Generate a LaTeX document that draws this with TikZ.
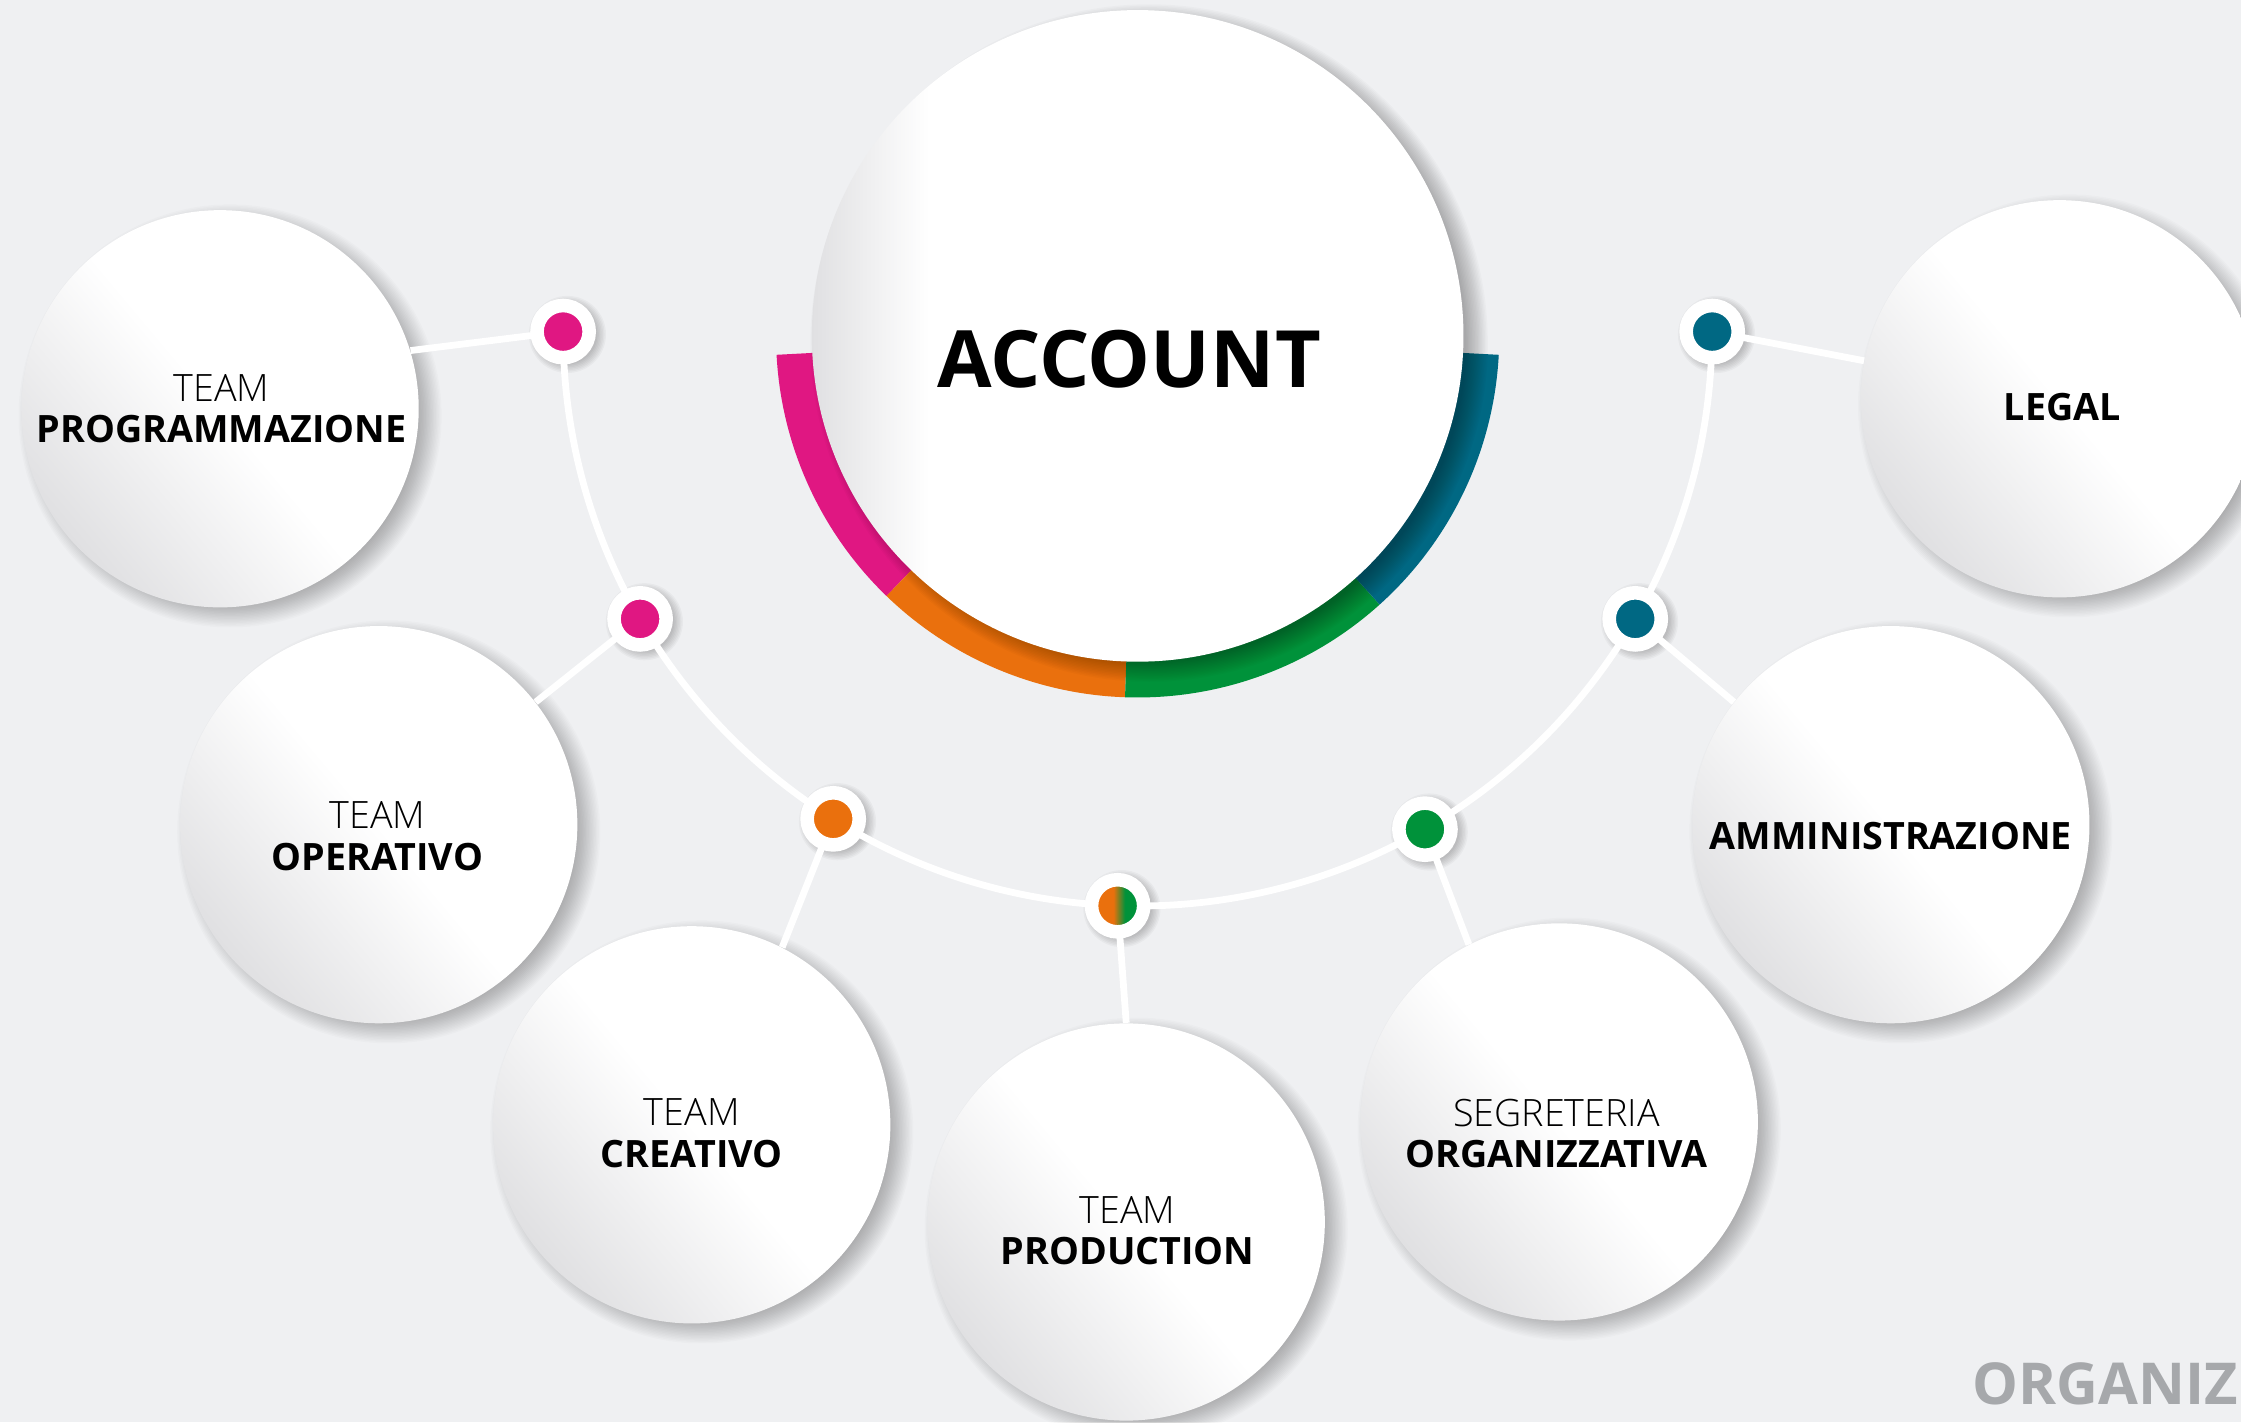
\documentclass[tikz,border=0pt]{standalone}
\usepackage{fontspec}
\setmainfont{Open Sans}
\newfontfamily\lightfont{Open Sans Light}
\definecolor{bgc}{RGB}{239,240,242}
\definecolor{cpink}{RGB}{224,23,130}
\definecolor{corange}{RGB}{234,112,13}
\definecolor{cgreen}{RGB}{0,146,58}
\definecolor{cteal}{RGB}{0,104,131}
\definecolor{cgtxt}{RGB}{166,168,171}
\definecolor{cshd}{RGB}{224,224,226}
\pgfdeclarelayer{back}
\pgfdeclarelayer{shad}
\pgfdeclarelayer{lines}
\pgfsetlayers{back,shad,lines,main}
\pgfdeclarehorizontalshading{accshade}{100bp}{color(0bp)=(cshd); color(25bp)=(cshd); color(34bp)=(white); color(100bp)=(white)}
\pgfdeclarehorizontalshading{dotshade}{100bp}{color(0bp)=(corange); color(46bp)=(corange); color(57bp)=(cgreen); color(100bp)=(cgreen)}
\newcommand\mySoftShadow[6]{% x, y, radius, steps, dx, dy
  \begin{pgfonlayer}{shad}
  \foreach \k in {1,...,#4}{\pgfmathsetmacro\rr{#3+\k-#4/2}\fill[black,opacity=0.016] (#1+#5,#2+#6) circle[radius=\rr];}
  \end{pgfonlayer}}
\tikzset{
  bubble/.style={circle, inner sep=0pt, minimum size=5.56cm, bottom color=cshd, top color=white, middle color=white, shading angle=-50},
  lbl/.style={align=center, inner sep=0pt, font=\fontsize{15}{16.5}\selectfont},
  conn/.style={draw=white, line width=2.7pt},
  dotc/.style={circle, inner sep=0pt, minimum size=0.73cm, fill=#1, draw=white, line width=0.19cm},
  dotg/.style={circle, inner sep=0pt, minimum size=0.73cm, shading=dotshade, draw=white, line width=0.19cm},
}
\begin{document}
\begin{tikzpicture}[x=0.02cm, y=-0.02cm]
\begin{pgfonlayer}{back}
\fill[bgc] (0,0) rectangle (1568,995);
\end{pgfonlayer}
\useasboundingbox (0,0) rectangle (1568,995);

% coloured ring around ACCOUNT
\coordinate (C) at (796,235);
\fill[cpink] (C) -- ([shift={(177:253)}]C) arc[start angle=177, end angle=134, radius=253] -- cycle;
\fill[corange] (C) -- ([shift={(134:253)}]C) arc[start angle=134, end angle=92, radius=253] -- cycle;
\fill[cgreen] (C) -- ([shift={(92:253)}]C) arc[start angle=92, end angle=48, radius=253] -- cycle;
\fill[cteal] (C) -- ([shift={(48:253)}]C) arc[start angle=48, end angle=3, radius=253] -- cycle;
\foreach \k in {1,...,16}{\pgfmathsetmacro\rr{221+\k}\fill[black,opacity=0.02] (804,240) circle[radius=\rr];}

\node[circle, inner sep=0pt, minimum size=9.12cm, shading=accshade] (acc) at (C) {};
\node[inner sep=0pt, font=\fontsize{31.5}{34}\selectfont\bfseries] (tacc) at (790,251) {ACCOUNT};

% bubbles
\mySoftShadow{154}{286}{139}{18}{7}{5}
\mySoftShadow{265}{577}{139}{18}{7}{5}
\mySoftShadow{484}{787}{139}{18}{7}{5}
\mySoftShadow{788}{855}{139}{18}{7}{5}
\mySoftShadow{1091}{785}{139}{18}{7}{5}
\mySoftShadow{1323}{577}{139}{18}{7}{5}
\mySoftShadow{1441}{279}{139}{18}{7}{5}
\node[bubble] (n1) at (154,286) {};
\node[bubble] (n2) at (265,577) {};
\node[bubble] (n3) at (484,787) {};
\node[bubble] (n4) at (788,855) {};
\node[bubble] (n5) at (1091,785) {};
\node[bubble] (n6) at (1323,577) {};
\node[bubble] (n7) at (1441,279) {};

\node[lbl] (t1) at (155,286) {{\lightfont TEAM}\\\textbf{PROGRAMMAZIONE}};
\node[lbl] (t2) at (264,585) {{\lightfont TEAM}\\\textbf{OPERATIVO}};
\node[lbl] (t3) at (484,793) {{\lightfont TEAM}\\\textbf{CREATIVO}};
\node[lbl] (t4) at (789,861) {{\lightfont TEAM}\\\textbf{PRODUCTION}};
\node[lbl] (t5) at (1089,793) {{\lightfont SEGRETERIA}\\\textbf{ORGANIZZATIVA}};
\node[lbl] (t6) at (1323,585) {\textbf{AMMINISTRAZIONE}};
\node[lbl] (t7) at (1443,285) {\textbf{LEGAL}};

% dots on the arc
\coordinate (Cb) at (796,232);
\foreach \a in {180,150,122,92,60,30,0}{
  \begin{pgfonlayer}{shad}
  \foreach \k in {1,...,7}{\pgfmathsetmacro\rr{20+\k}\fill[black,opacity=0.03] ([shift={(\a:402)},shift={(3,2)}]Cb) circle[radius=\rr];}
  \end{pgfonlayer}}
\node[dotc=cpink] (da) at ([shift={(180:402)}]Cb) {};
\node[dotc=cpink] (db) at ([shift={(150:402)}]Cb) {};
\node[dotc=corange] (dc) at ([shift={(122:402)}]Cb) {};
\node[dotg] (dd) at ([shift={(92:402)}]Cb) {};
\node[dotc=cgreen] (de) at ([shift={(60:402)}]Cb) {};
\node[dotc=cteal] (df) at ([shift={(30:402)}]Cb) {};
\node[dotc=cteal] (dg) at ([shift={(0:402)}]Cb) {};

\begin{pgfonlayer}{lines}
\draw[conn] (da.center) arc[start angle=180, end angle=360, radius=8.04cm];
\draw[conn] (da.center) -- (n1.17);
\draw[conn] (db.center) -- (n2.38);
\draw[conn] (dc.center) -- (n3.63);
\draw[conn] (dd.center) -- (n4.90);
\draw[conn] (de.center) -- (n5.117);
\draw[conn] (df.center) -- (n6.142);
\draw[conn] (dg.center) -- (n7.169);
\end{pgfonlayer}

\node[anchor=east, inner sep=0pt, text=cgtxt, font=\fontsize{23}{26}\selectfont\bfseries] (torg) at (1566,968) {ORGANIZ};
\end{tikzpicture}
\end{document}
